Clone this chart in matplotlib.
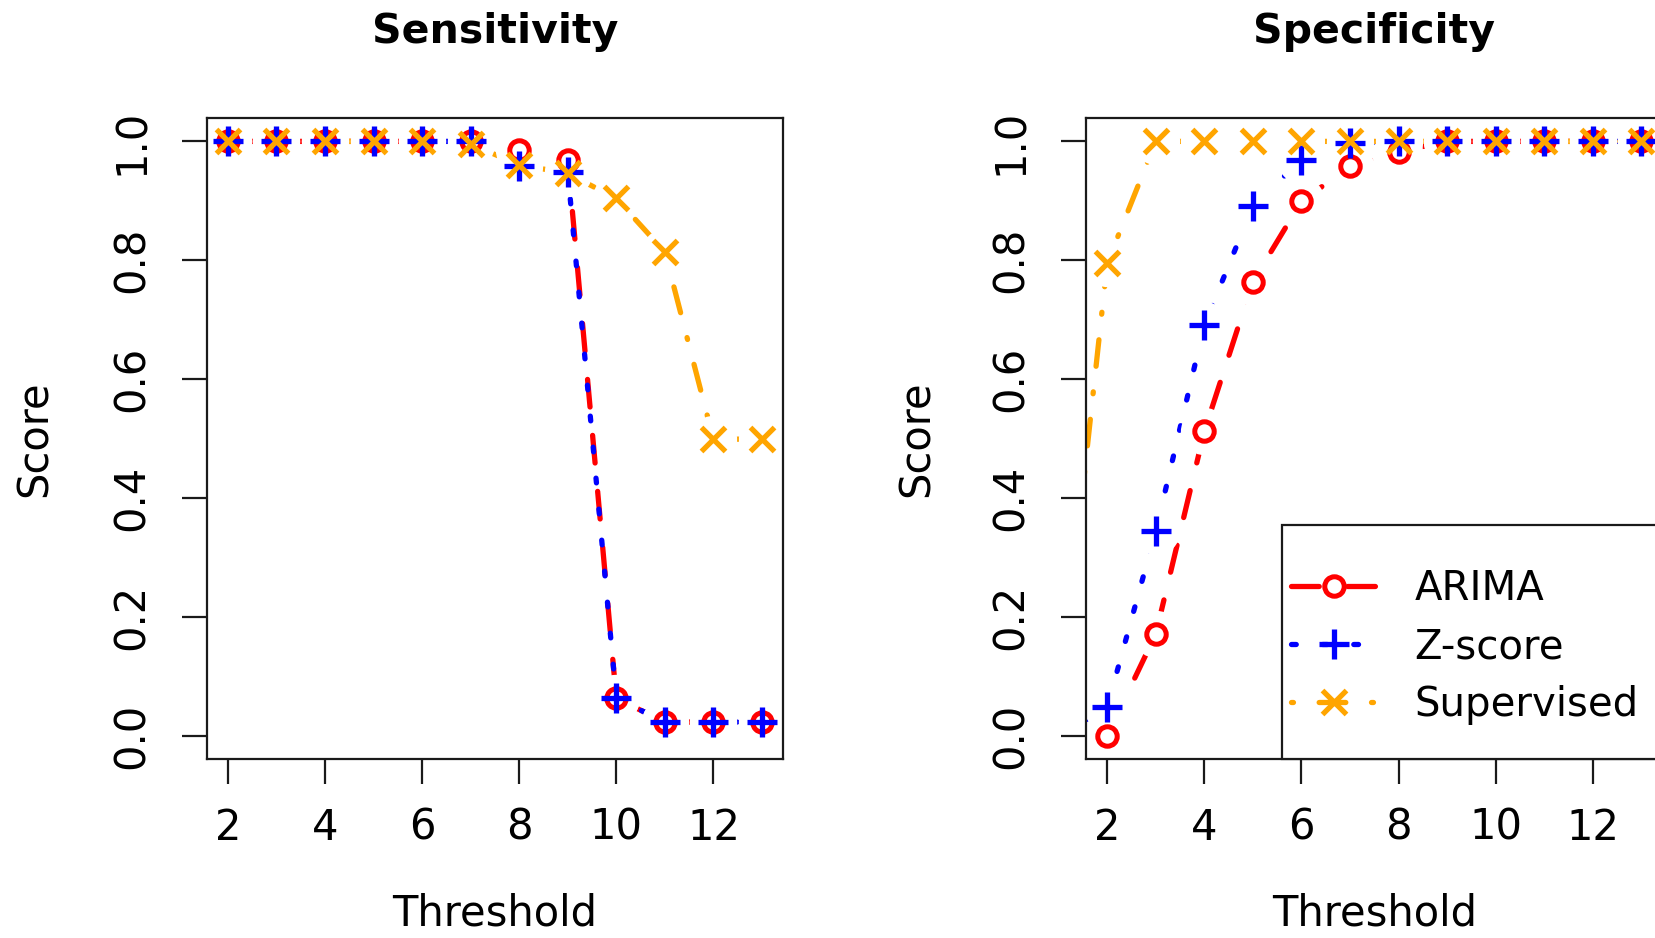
import matplotlib
matplotlib.use("Agg")
import matplotlib.pyplot as plt
from matplotlib.patches import Rectangle

# ---------------- data ----------------
series_names = ["ARIMA", "Z-score", "Supervised"]

sens_threshold = [2, 3, 4, 5, 6, 7, 8, 9, 10, 11, 12, 13]
sens_arima = [1.0, 1.0, 1.0, 1.0, 1.0, 1.0, 0.986, 0.969, 0.063, 0.023, 0.023, 0.023]
sens_zscore = [1.0, 1.0, 1.0, 1.0, 1.0, 1.0, 0.958, 0.949, 0.063, 0.023, 0.023, 0.023]
sens_supervised = [1.0, 1.0, 1.0, 1.0, 1.0, 0.995, 0.961, 0.946, 0.904, 0.814, 0.499, 0.499]

spec_threshold = [1, 2, 3, 4, 5, 6, 7, 8, 9, 10, 11, 12, 13]
spec_arima = [0.0, 0.0, 0.171, 0.512, 0.764, 0.899, 0.958, 0.983, 1.0, 1.0, 1.0, 1.0, 1.0]
spec_zscore = [0.0, 0.048, 0.344, 0.691, 0.891, 0.969, 0.997, 1.0, 1.0, 1.0, 1.0, 1.0, 1.0]
spec_supervised = [0.04, 0.795, 1.0, 1.0, 1.0, 1.0, 1.0, 1.0, 1.0, 1.0, 1.0, 1.0, 1.0]

x_ticks = [2, 4, 6, 8, 10, 12]
y_ticks = [0.0, 0.2, 0.4, 0.6, 0.8, 1.0]
y_tick_labels = ["0.0", "0.2", "0.4", "0.6", "0.8", "1.0"]

# ---------------- style ----------------
plt.rcParams["font.family"] = ["DejaVu Sans"]
INK = "#1a1a1a"
RED, BLUE, ORANGE = "#FF0000", "#0000FF", "#FFA500"
LW = 3.8

line_styles = [
    dict(color=RED, linestyle=(0, (5.25, 5.4))),
    dict(color=BLUE, linestyle=(0, (0.9, 5.0))),
    dict(color=ORANGE, linestyle=(0, (0.37, 4.87, 5.05, 4.87))),
]
marker_styles = [
    dict(color=RED, marker="o", markersize=14, markerfacecolor="white", markeredgewidth=3.6),
    dict(color=BLUE, marker="+", markersize=21, markeredgewidth=3.8),
    dict(color=ORANGE, marker="x", markersize=17, markeredgewidth=3.8),
]

TICK_FS = 30
LABEL_FS = 30
TITLE_FS = 29.5
LEGEND_FS = 29

fig = plt.figure(figsize=(16.55, 9.38), dpi=100)
ax_sens = fig.add_axes([0.1248, 0.1903, 0.3485, 0.6843])
ax_spec = fig.add_axes([0.6561, 0.1903, 0.3485, 0.6843])


def style_axes(ax, title, ylabel_x):
    ax.set_xlim(1.56, 13.44)
    ax.set_ylim(-0.04, 1.04)
    for s in ax.spines.values():
        s.set_linewidth(1.6)
        s.set_color(INK)
    ax.set_xticks(x_ticks, labels=[str(t) for t in x_ticks])
    ax.set_yticks(y_ticks, labels=y_tick_labels, rotation=90, va="center", ha="center")
    ax.tick_params(axis="both", direction="out", length=18, width=1.6, colors=INK,
                   labelcolor="black", labelsize=TICK_FS)
    ax.tick_params(axis="x", pad=16)
    ax.tick_params(axis="y", pad=36)
    ax.set_xlabel("Threshold", fontsize=LABEL_FS)
    ax.xaxis.set_label_coords(0.5, -0.2407)
    ax.xaxis.label.set_va("center")
    ax.set_ylabel("Score", fontsize=LABEL_FS)
    ax.yaxis.set_label_coords(ylabel_x, 0.5)
    ax.yaxis.label.set_va("center")
    ax.text(0.5, 1.1158, title, transform=ax.transAxes, ha="center", va="baseline",
            fontsize=TITLE_FS, fontweight="bold")


legend_handles = {}
for ax, xs, ys_list in [
    (ax_sens, sens_threshold, [sens_arima, sens_zscore, sens_supervised]),
    (ax_spec, spec_threshold, [spec_arima, spec_zscore, spec_supervised]),
]:
    # connecting lines (R type = "b": lines broken around the points)
    for ys, ls in zip(ys_list, line_styles):
        ax.plot(xs, ys, linewidth=LW, dash_capstyle="round", solid_capstyle="round",
                zorder=2, **ls)
    for ys in ys_list:
        ax.plot(xs, ys, linestyle="none", marker="o", markersize=34,
                markerfacecolor="white", markeredgecolor="none", zorder=2.2)
    for name, ys, ls, ms in zip(series_names, ys_list, line_styles, marker_styles):
        ax.plot(xs, ys, linestyle="none", zorder=3, **ms)
        h, = ax.plot([], [], linewidth=LW, dash_capstyle="round", **ls,
                     **{k: v for k, v in ms.items() if k != "color"})
        legend_handles[name] = h

style_axes(ax_sens, "Sensitivity", -0.2975)
style_axes(ax_spec, "Specificity", -0.2934)

# legend box (bottom-right, runs past the figure edge as in the reference)
box = Rectangle((0.3394, 0.0), 0.8, 0.366, transform=ax_spec.transAxes,
                facecolor="white", edgecolor=INK, linewidth=1.6, zorder=5, clip_on=False)
ax_spec.add_patch(box)
leg = ax_spec.legend([legend_handles[n] for n in series_names], series_names,
                     loc="upper left", bbox_to_anchor=(0.3562, 0.2968),
                     frameon=False, borderpad=0, borderaxespad=0, handlelength=2.11,
                     handletextpad=0.95, labelspacing=0.45, fontsize=LEGEND_FS,
                     numpoints=1)
leg.set_zorder(6)

fig.savefig("out.png", dpi=100)
